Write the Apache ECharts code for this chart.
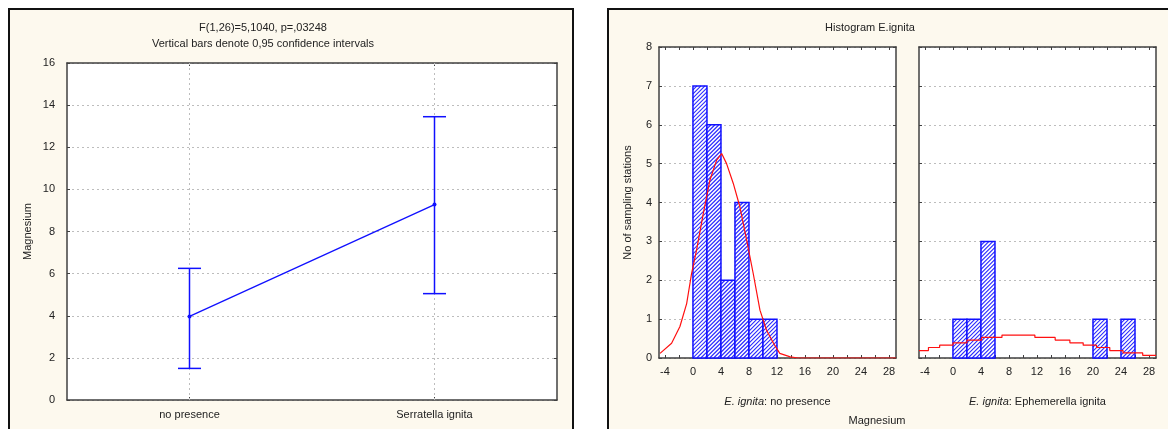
<!DOCTYPE html>
<html lang="en">
<head>
<meta charset="UTF-8">
<title>Magnesium - E. ignita</title>
<style>
    html, body { margin: 0; padding: 0; background: #fff; }
    #box { width: 1168px; height: 429px; }
</style>
</head>
<body>
<div id="box"></div>
<script src="https://cdn.jsdelivr.net/npm/echarts@6/dist/echarts.min.js"></script>
<script>
    // left chart: group means with 0.95 confidence intervals
    var groups = ['no presence', 'Serratella ignita'];
    var means = [3.97, 9.28];
    var ciLow = [1.5, 5.05];
    var ciHigh = [6.25, 13.45];

    // histograms: [bin start, bin end, count]
    var binsNoPresence = [[0, 2, 7], [2, 4, 6], [4, 6, 2], [6, 8, 4], [8, 10, 1], [10, 12, 1]];
    var binsIgnita = [[0, 2, 1], [2, 4, 1], [4, 6, 3], [20, 22, 1], [24, 26, 1]];

    // expected normal counts (red curves)
    var curveNoPresence = [[-4.7, 0.12], [-3.05, 0.38], [-1.86, 0.81], [-0.9, 1.4], [-0.19, 2.18], [0.52, 2.78],
        [1.48, 3.72], [2.43, 4.58], [3.38, 5.09], [4.1, 5.26], [4.8, 5.0], [5.76, 4.49], [6.7, 3.89],
        [7.67, 3.03], [8.6, 2.18], [9.57, 1.23], [10.5, 0.72], [11.5, 0.38], [12.4, 0.12], [13.9, 0.03],
        [15, 0], [29, 0]];
    var curveIgnita = [[-4.85, 0.19], [-3.5, 0.27], [-1.9, 0.33], [0, 0.39], [2, 0.46], [4.1, 0.53], [7, 0.59],
        [11.7, 0.53], [14.6, 0.46], [16.7, 0.39], [18.6, 0.33], [20.5, 0.27], [22.4, 0.19], [24.3, 0.13],
        [27.1, 0.07], [29, 0.07]];

    var histTicks = [-4, -2, 0, 2, 4, 6, 8, 10, 12, 14, 16, 18, 20, 22, 24, 26, 28];
    var histLabels = [-4, 0, 4, 8, 12, 16, 20, 24, 28];

    var font = '"Liberation Sans", Arial, sans-serif';
    var frame = '#404040';
    var blue = '#1010ff';

    var mychart = echarts.init(document.getElementById('box'));

    function frameAxis(type, gridIndex, position, extra) {
        var a = {
            type: type,
            gridIndex: gridIndex,
            position: position,
            axisLine: { show: true, onZero: false, lineStyle: { color: frame, width: 1.5 } },
            axisTick: { show: true, inside: true, length: 3, lineStyle: { color: frame } },
            axisLabel: { show: false },
            splitLine: { show: false }
        };
        for (var k in extra) a[k] = extra[k];
        return a;
    }

    var labelStyle = { fontFamily: font, fontSize: 11, color: '#222' };
    var gridDash = { show: true, lineStyle: { color: '#bdbdbd', type: [2, 3], width: 1 } };

    function histX(gridIndex, name) {
        return frameAxis('value', gridIndex, 'bottom', {
            min: -4.85, max: 29,
            axisTick: { show: true, inside: true, length: 3, customValues: histTicks, lineStyle: { color: frame } },
            axisLabel: { show: true, customValues: histLabels, margin: 8, fontFamily: font, fontSize: 11, color: '#222' },
            name: name,
            nameLocation: 'middle',
            nameGap: 38,
            nameTextStyle: {
                fontFamily: font, fontSize: 11, color: '#222',
                rich: { i: { fontStyle: 'italic', fontFamily: font, fontSize: 11, color: '#222' } }
            }
        });
    }
    function histXTop(gridIndex) {
        return frameAxis('value', gridIndex, 'top', {
            min: -4.85, max: 29,
            axisTick: { show: true, inside: true, length: 3, customValues: histTicks, lineStyle: { color: frame } }
        });
    }

    // hatched bar: white rect, diagonal blue lines clipped to it, blue outline
    function barRender(params, api) {
        var p0 = api.coord([api.value(0), api.value(2)]);
        var p1 = api.coord([api.value(1), 0]);
        var x = p0[0], y = p0[1], w = p1[0] - p0[0], h = p1[1] - p0[1];
        var kids = [{ type: 'rect', shape: { x: x, y: y, width: w, height: h }, style: { fill: '#fff' } }];
        for (var k = -h; k < w; k += 4) {
            var t0 = Math.max(0, -k), t1 = Math.min(h, w - k);
            if (t1 > t0) {
                kids.push({
                    type: 'line',
                    shape: { x1: x + k + t0, y1: y + h - t0, x2: x + k + t1, y2: y + h - t1 },
                    style: { stroke: '#2b2bff', lineWidth: 1.1 }
                });
            }
        }
        kids.push({ type: 'rect', shape: { x: x, y: y, width: w, height: h },
            style: { fill: 'none', stroke: blue, lineWidth: 1.5 } });
        return { type: 'group', children: kids };
    }

    var option = {
        backgroundColor: '#fff',
        animation: false,
        graphic: [
            { type: 'rect', z: -10, shape: { x: 9, y: 9, width: 564, height: 440 },
              style: { fill: '#fdf9ee', stroke: '#111', lineWidth: 2 } },
            { type: 'rect', z: -10, shape: { x: 608, y: 9, width: 580, height: 440 },
              style: { fill: '#fdf9ee', stroke: '#111', lineWidth: 2 } },
            { type: 'text', x: 263, y: 28, style: { text: 'F(1,26)=5,1040, p=,03248', font: '11px ' + font,
              fill: '#222', textAlign: 'center', textVerticalAlign: 'middle' } },
            { type: 'text', x: 263, y: 44, style: { text: 'Vertical bars denote 0,95 confidence intervals', font: '11px ' + font,
              fill: '#222', textAlign: 'center', textVerticalAlign: 'middle' } },
            { type: 'text', x: 870, y: 28, style: { text: 'Histogram E.ignita', font: '11px ' + font,
              fill: '#222', textAlign: 'center', textVerticalAlign: 'middle' } },
            { type: 'text', x: 877, y: 421, style: { text: 'Magnesium', font: '11px ' + font,
              fill: '#222', textAlign: 'center', textVerticalAlign: 'middle' } }
        ],
        grid: [
            { left: 67, top: 63, width: 490, height: 337, show: true, backgroundColor: '#fff', borderWidth: 0 },
            { left: 659, top: 47, width: 237, height: 311, show: true, backgroundColor: '#fff', borderWidth: 0 },
            { left: 919, top: 47, width: 237, height: 311, show: true, backgroundColor: '#fff', borderWidth: 0 }
        ],
        xAxis: [
            frameAxis('category', 0, 'bottom', {
                data: groups, boundaryGap: true,
                axisTick: { show: true, inside: true, length: 3, alignWithLabel: true, lineStyle: { color: frame } },
                axisLabel: { show: true, margin: 9, fontFamily: font, fontSize: 11, color: '#222' }
            }),
            frameAxis('category', 0, 'top', {
                data: groups, boundaryGap: true,
                axisTick: { show: true, inside: true, length: 3, alignWithLabel: true, lineStyle: { color: frame } }
            }),
            histX(1, '{i|E. ignita}: no presence'),
            histXTop(1),
            histX(2, '{i|E. ignita}: Ephemerella ignita'),
            histXTop(2)
        ],
        yAxis: [
            frameAxis('value', 0, 'left', {
                min: 0, max: 16, interval: 2,
                axisLabel: { show: true, margin: 12, fontFamily: font, fontSize: 11, color: '#222' },
                splitLine: gridDash,
                name: 'Magnesium', nameLocation: 'middle', nameGap: 34,
                nameTextStyle: labelStyle
            }),
            frameAxis('value', 0, 'right', { min: 0, max: 16, interval: 2 }),
            frameAxis('value', 1, 'left', {
                min: 0, max: 8, interval: 1,
                axisLabel: { show: true, margin: 7, fontFamily: font, fontSize: 11, color: '#222' },
                splitLine: gridDash,
                name: 'No of sampling stations', nameLocation: 'middle', nameGap: 26,
                nameTextStyle: labelStyle
            }),
            frameAxis('value', 1, 'right', { min: 0, max: 8, interval: 1 }),
            frameAxis('value', 2, 'left', { min: 0, max: 8, interval: 1, splitLine: gridDash }),
            frameAxis('value', 2, 'right', { min: 0, max: 8, interval: 1 })
        ],
        series: [
            {
                type: 'line',
                xAxisIndex: 0, yAxisIndex: 0,
                data: means,
                symbol: 'circle', symbolSize: 4,
                itemStyle: { color: blue },
                lineStyle: { color: blue, width: 1.3 },
                z: 5,
                markLine: {
                    silent: true,
                    symbol: 'none',
                    z: 1,
                    label: { show: false },
                    lineStyle: { color: '#bdbdbd', type: [2, 3], width: 1 },
                    data: groups.map(function (g) { return { xAxis: g }; })
                }
            },
            {
                type: 'custom',
                xAxisIndex: 0, yAxisIndex: 0,
                z: 8,
                data: groups.map(function (g, i) { return [i, ciLow[i], ciHigh[i]]; }),
                encode: { x: 0, y: [1, 2] },
                renderItem: function (params, api) {
                    var lo = api.coord([api.value(0), api.value(1)]);
                    var hi = api.coord([api.value(0), api.value(2)]);
                    var w = 11.5;
                    var st = { stroke: blue, lineWidth: 1.5 };
                    return {
                        type: 'group',
                        children: [
                            { type: 'line', shape: { x1: lo[0], y1: lo[1], x2: hi[0], y2: hi[1] }, style: st },
                            { type: 'line', shape: { x1: lo[0] - w, y1: lo[1], x2: lo[0] + w, y2: lo[1] }, style: st },
                            { type: 'line', shape: { x1: hi[0] - w, y1: hi[1], x2: hi[0] + w, y2: hi[1] }, style: st }
                        ]
                    };
                }
            },
            {
                type: 'custom',
                xAxisIndex: 2, yAxisIndex: 2,
                z: 3,
                data: binsNoPresence,
                encode: { x: [0, 1], y: 2 },
                renderItem: barRender
            },
            {
                type: 'custom',
                xAxisIndex: 4, yAxisIndex: 4,
                z: 3,
                data: binsIgnita,
                encode: { x: [0, 1], y: 2 },
                renderItem: barRender
            },
            {
                type: 'line',
                xAxisIndex: 2, yAxisIndex: 2,
                data: curveNoPresence,
                showSymbol: false, symbol: 'none',
                lineStyle: { color: '#ff1010', width: 1.2 },
                z: 6
            },
            {
                type: 'line',
                xAxisIndex: 4, yAxisIndex: 4,
                data: curveIgnita,
                step: 'end',
                showSymbol: false, symbol: 'none',
                lineStyle: { color: '#ff1010', width: 1.2 },
                z: 6
            }
        ]
    };
    mychart.setOption(option);
</script>
</body>
</html>
